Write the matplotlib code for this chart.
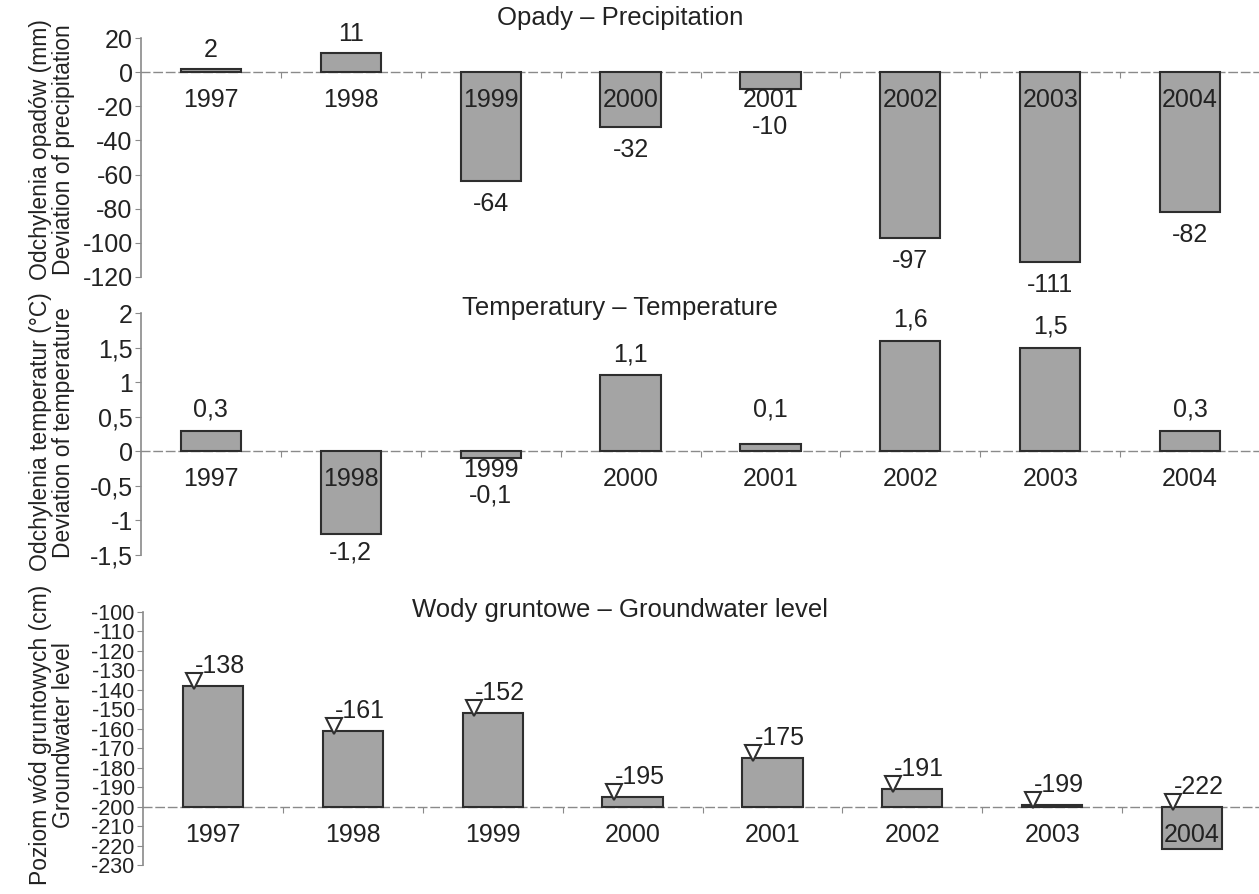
import matplotlib
matplotlib.use("Agg")
import matplotlib.pyplot as plt
from matplotlib.ticker import FuncFormatter, FixedLocator
from matplotlib.transforms import offset_copy

plt.rcParams['font.family'] = ['Liberation Sans', 'DejaVu Sans']
plt.rcParams['axes.unicode_minus'] = False

years = ['1997', '1998', '1999', '2000', '2001', '2002', '2003', '2004']
precip = [2, 11, -64, -32, -10, -97, -111, -82]
temp = [0.3, -1.2, -0.1, 1.1, 0.1, 1.6, 1.5, 0.3]
temp_labels = ['0,3', '-1,2', '-0,1', '1,1', '0,1', '1,6', '1,5', '0,3']
ground = [-138, -161, -152, -195, -175, -191, -199, -222]
ground_base = -200

titles = ['Opady – Precipitation', 'Temperatury – Temperature',
          'Wody gruntowe – Groundwater level']
ylabels = ['Odchylenia opadów (mm)\nDeviation of precipitation',
           'Odchylenia temperatur (°C)\nDeviation of temperature',
           'Poziom wód gruntowych (cm)\nGroundwater level']

BAR = '#a4a4a4'
EDGE = '#2e2e2e'
TXT = '#222222'
AX = '#8a8a8a'
FS = 18

W, H = 1259, 894
fig = plt.figure(figsize=(W / 100, H / 100), dpi=100)

def fr(x0, y0, x1, y1):
    return [x0 / W, 1 - y1 / H, (x1 - x0) / W, (y1 - y0) / H]

ax1 = fig.add_axes(fr(141, 38, 1260, 277))
ax2 = fig.add_axes(fr(141, 313, 1260, 555))
ax3 = fig.add_axes(fr(143, 612, 1262, 865))
x = list(range(len(years)))

def style(ax, base, ylim, yticks, fs):
    ax.set_xlim(-0.5, 7.5)
    ax.set_ylim(*ylim)
    for s in ['top', 'right']:
        ax.spines[s].set_visible(False)
    ax.spines['left'].set_color(AX)
    ax.spines['left'].set_linewidth(1.2)
    ax.spines['bottom'].set_position(('data', base))
    ax.spines['bottom'].set_color(AX)
    ax.spines['bottom'].set_linestyle((0, (6, 3)))
    ax.spines['bottom'].set_linewidth(1.0)
    ax.xaxis.set_major_locator(FixedLocator([i + 0.5 for i in range(8)]))
    ax.tick_params(axis='x', length=4, color=AX, labelbottom=False)
    ax.yaxis.set_major_locator(FixedLocator(yticks))
    ax.tick_params(axis='y', length=4, color=AX, labelsize=fs, labelcolor=TXT, pad=2)
    ax.patch.set_alpha(0)

def px(ax, v, base):
    return abs(ax.transData.transform((0, v))[1] - ax.transData.transform((0, base))[1])

def year_labels(ax, base, vals=None):
    for i, y in enumerate(years):
        off = -28
        if vals is not None and vals[i] < base and px(ax, vals[i], base) < 20:
            off = -19
        ax.annotate(y, (i, base), xytext=(0, off), textcoords='offset pixels',
                    ha='center', va='center', fontsize=FS, color=TXT, zorder=5)

# Panel 1
style(ax1, 0, (-120, 20), list(range(-120, 21, 20)), FS)
ax1.bar(x, precip, width=0.43, color=BAR, edgecolor=EDGE, linewidth=1.5, zorder=3)
year_labels(ax1, 0)
for i, v in enumerate(precip):
    d = px(ax1, v, 0)
    if v >= 0:
        off = d + 19
    else:
        off = -max(d + 23, 55)
    ax1.annotate(str(v), (i, 0), xytext=(0, off), textcoords='offset pixels',
                 ha='center', va='center', fontsize=FS, color=TXT)

# Panel 2
fmt = FuncFormatter(lambda v, p: ('%g' % v).replace('.', ','))
style(ax2, 0, (-1.5, 2), [-1.5, -1, -0.5, 0, 0.5, 1, 1.5, 2], FS)
ax2.yaxis.set_major_formatter(fmt)
ax2.bar(x, temp, width=0.43, color=BAR, edgecolor=EDGE, linewidth=1.5, zorder=3)
year_labels(ax2, 0, temp)
for i, (v, lab) in enumerate(zip(temp, temp_labels)):
    d = px(ax2, v, 0)
    if v >= 0:
        off = max(d + 21, 42)
    else:
        off = -max(d + 18, 44)
    ax2.annotate(lab, (i, 0), xytext=(0, off), textcoords='offset pixels',
                 ha='center', va='center', fontsize=FS, color=TXT)

# Panel 3
style(ax3, ground_base, (-230, -100), list(range(-230, -99, 10)), 15.5)
ax3.bar(x, [g - ground_base for g in ground], bottom=ground_base, width=0.43,
        color=BAR, edgecolor=EDGE, linewidth=1.5, zorder=3)
year_labels(ax3, ground_base)
tri = offset_copy(ax3.transData, fig=fig, x=-19, y=5, units='dots')
tops = [max(g, ground_base) for g in ground]
ax3.plot(x, tops, linestyle='none', marker='v', markersize=12, mfc='white',
         mec=EDGE, mew=1.5, transform=tri, zorder=4)
for i, (v, t) in enumerate(zip(ground, tops)):
    ax3.annotate(str(v), (i, t), xytext=(7, 20), textcoords='offset pixels',
                 ha='center', va='center', fontsize=FS, color=TXT, zorder=5)

# titles and y labels
for t, ypx in zip(titles, [18, 308, 610]):
    fig.text(620 / W, 1 - ypx / H, t, ha='center', va='center', fontsize=18.5, color=TXT)
for t, ypx in zip(ylabels, [150, 432, 735]):
    fig.text(52 / W, 1 - ypx / H, t, ha='center', va='center', rotation=90,
             fontsize=16.5, color=TXT, linespacing=1.05, multialignment='center')

fig.savefig('out.png', dpi=100)
